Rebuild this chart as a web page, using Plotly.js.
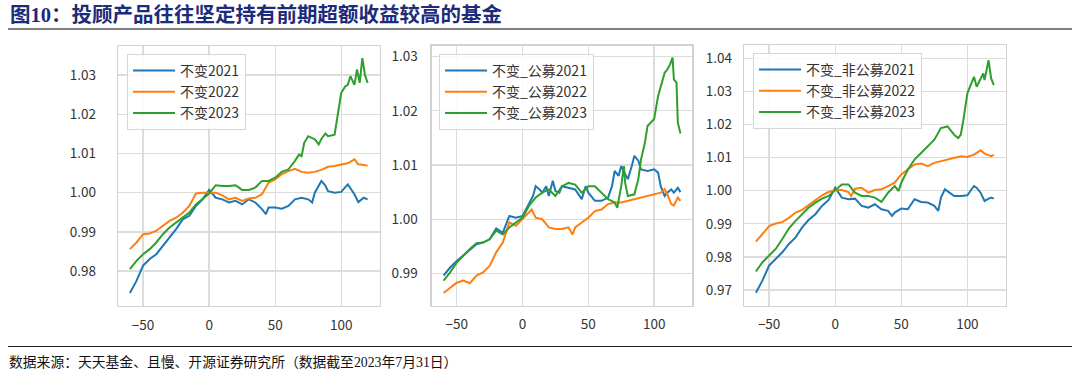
<!DOCTYPE html>
<html>
<head>
<meta charset="utf-8">
<script src="https://cdn.plot.ly/plotly-3.0.1.min.js"></script>
<style>html,body{margin:0;padding:0;background:#fff;}#chart{width:1080px;height:378px;}</style>
</head>
<body>
<div id="chart"></div>
<script>
// ---- data (day offset, cumulative relative NAV) ----
const p1_2021 = [[-60,0.9744],[-55,0.9775],[-50,0.9814],[-45,0.9831],[-40,0.9843],[-35,0.9864],[-30,0.9886],[-25,0.9907],[-20,0.9932],[-15,0.9941],[-10,0.9966],[-5,0.9983],[0,1.0007],[5,0.9987],[10,0.9983],[15,0.9975],[20,0.9979],[25,0.9970],[30,0.9983],[35,0.9975],[40,0.9958],[43,0.9945],[45,0.9962],[50,0.9962],[55,0.9959],[60,0.9966],[65,0.9983],[70,0.9987],[75,0.9983],[78,0.9975],[80,1.0000],[85,1.0030],[88,1.0018],[90,1.0004],[95,1.0000],[100,1.0002],[105,1.0021],[110,0.9996],[113,0.9976],[117,0.9987],[120,0.9983]];
const p1_2022 = [[-60,0.9856],[-55,0.9873],[-50,0.9894],[-45,0.9896],[-40,0.9903],[-35,0.9915],[-30,0.9928],[-25,0.9936],[-20,0.9949],[-15,0.9966],[-10,0.9998],[-5,1.0000],[0,1.0000],[5,1.0000],[10,0.9993],[15,0.9983],[20,0.9987],[25,0.9979],[30,0.9985],[35,0.9987],[40,0.9996],[43,1.0013],[45,1.0025],[50,1.0034],[55,1.0047],[60,1.0055],[65,1.0061],[70,1.0053],[75,1.0051],[80,1.0053],[85,1.0058],[90,1.0066],[95,1.0068],[100,1.0072],[105,1.0075],[110,1.0085],[113,1.0072],[115,1.0072],[120,1.0069]];
const p1_2023 = [[-60,0.9805],[-55,0.9826],[-50,0.9843],[-45,0.9856],[-40,0.9873],[-35,0.9894],[-30,0.9911],[-25,0.9924],[-20,0.9936],[-15,0.9949],[-10,0.9970],[-5,0.9985],[0,0.9998],[5,1.0019],[10,1.0017],[15,1.0017],[20,1.0019],[25,1.0007],[30,1.0007],[35,1.0013],[40,1.0030],[45,1.0030],[50,1.0038],[55,1.0053],[60,1.0059],[65,1.0081],[68,1.0097],[70,1.0093],[72,1.0127],[75,1.0144],[78,1.0140],[80,1.0136],[83,1.0123],[85,1.0137],[88,1.0151],[90,1.0144],[95,1.0148],[97,1.0191],[100,1.0254],[103,1.0271],[105,1.0275],[107,1.0297],[110,1.0275],[112,1.0314],[114,1.0280],[116,1.0343],[118,1.0300],[120,1.0280]];

const p2_2021 = [[-60,0.9896],[-55,0.9911],[-50,0.9923],[-45,0.9933],[-40,0.9944],[-35,0.9954],[-30,0.9957],[-25,0.9963],[-20,0.9983],[-15,0.9975],[-10,1.0006],[-5,1.0003],[0,1.0006],[5,1.0031],[8,1.0043],[10,1.0061],[13,1.0055],[15,1.0049],[18,1.0061],[20,1.0043],[23,1.0071],[25,1.0052],[28,1.0049],[30,1.0061],[35,1.0058],[40,1.0055],[45,1.0037],[48,1.0061],[50,1.0049],[55,1.0034],[60,1.0034],[65,1.0040],[68,1.0061],[70,1.0089],[73,1.0080],[75,1.0098],[78,1.0083],[80,1.0074],[83,1.0098],[85,1.0117],[88,1.0108],[90,1.0092],[95,1.0089],[100,1.0092],[103,1.0086],[105,1.0061],[108,1.0043],[110,1.0049],[113,1.0055],[115,1.0049],[118,1.0058],[120,1.0050]];
const p2_2022 = [[-60,0.9864],[-55,0.9874],[-50,0.9883],[-45,0.9887],[-40,0.9882],[-35,0.9896],[-30,0.9902],[-25,0.9914],[-20,0.9939],[-15,0.9957],[-10,0.9994],[-5,0.9988],[0,1.0000],[5,1.0012],[7,1.0018],[10,1.0003],[15,1.0000],[20,0.9985],[25,0.9982],[30,0.9982],[35,0.9985],[38,0.9972],[40,0.9985],[45,0.9994],[50,1.0003],[55,1.0015],[60,1.0018],[65,1.0028],[70,1.0031],[75,1.0031],[80,1.0034],[85,1.0037],[90,1.0040],[95,1.0043],[100,1.0046],[105,1.0049],[108,1.0055],[110,1.0046],[113,1.0028],[115,1.0025],[118,1.0040],[120,1.0034]];
const p2_2023 = [[-60,0.9887],[-55,0.9902],[-50,0.9920],[-45,0.9933],[-40,0.9945],[-35,0.9956],[-30,0.9957],[-25,0.9963],[-20,0.9979],[-15,0.9972],[-10,0.9985],[-5,0.9994],[0,1.0003],[5,1.0025],[10,1.0040],[15,1.0049],[20,1.0055],[25,1.0043],[30,1.0061],[35,1.0067],[40,1.0064],[45,1.0049],[50,1.0061],[55,1.0061],[60,1.0049],[65,1.0037],[70,1.0031],[72,1.0021],[75,1.0061],[77,1.0098],[78,1.0067],[80,1.0043],[85,1.0046],[88,1.0074],[90,1.0110],[93,1.0141],[95,1.0172],[98,1.0181],[100,1.0185],[103,1.0227],[105,1.0245],[108,1.0270],[110,1.0276],[112,1.0285],[114,1.0298],[115,1.0258],[117,1.0252],[118,1.0178],[120,1.0158]];

const p3_2021 = [[-60,0.9692],[-55,0.9729],[-50,0.9774],[-45,0.9794],[-40,0.9814],[-35,0.9839],[-30,0.9859],[-25,0.9889],[-20,0.9912],[-15,0.9929],[-10,0.9954],[-5,0.9972],[0,1.0009],[5,0.9979],[10,0.9974],[15,0.9976],[20,0.9954],[25,0.9949],[30,0.9959],[35,0.9944],[40,0.9939],[43,0.9924],[45,0.9934],[50,0.9946],[55,0.9944],[60,0.9974],[65,0.9966],[70,0.9964],[75,0.9954],[78,0.9939],[80,0.9979],[83,1.0004],[85,0.9999],[90,0.9984],[95,0.9984],[100,0.9986],[105,1.0014],[107,1.0009],[110,0.9994],[113,0.9969],[115,0.9974],[118,0.9979],[120,0.9976]];
const p3_2022 = [[-60,0.9846],[-55,0.9869],[-50,0.9893],[-45,0.9901],[-40,0.9905],[-35,0.9918],[-30,0.9934],[-25,0.9942],[-20,0.9956],[-15,0.9972],[-10,0.9986],[-5,0.9996],[0,1.0002],[5,1.0002],[10,0.9996],[12,0.9984],[15,1.0006],[20,1.0009],[25,0.9994],[30,1.0002],[35,1.0004],[40,1.0014],[45,1.0024],[50,1.0049],[55,1.0064],[60,1.0079],[65,1.0082],[70,1.0074],[75,1.0084],[80,1.0089],[85,1.0094],[90,1.0099],[95,1.0104],[100,1.0102],[105,1.0109],[110,1.0122],[113,1.0112],[115,1.0109],[118,1.0104],[120,1.0108]];
const p3_2023 = [[-60,0.9756],[-55,0.9784],[-50,0.9804],[-45,0.9824],[-40,0.9854],[-35,0.9886],[-30,0.9909],[-25,0.9929],[-20,0.9949],[-15,0.9964],[-10,0.9976],[-5,0.9984],[0,1.0002],[5,1.0019],[10,1.0019],[15,0.9994],[20,0.9984],[25,0.9984],[30,0.9979],[35,0.9966],[40,0.9994],[45,1.0014],[48,0.9999],[50,1.0024],[55,1.0064],[60,1.0094],[65,1.0114],[70,1.0134],[75,1.0154],[80,1.0189],[85,1.0194],[88,1.0179],[90,1.0169],[93,1.0159],[95,1.0169],[97,1.0214],[100,1.0294],[103,1.0324],[105,1.0344],[107,1.0314],[110,1.0339],[112,1.0354],[113,1.0334],[116,1.0394],[118,1.0339],[120,1.0319]];

const names1 = ['不变2021','不变2022','不变2023'];
const names2 = ['不变_公募2021','不变_公募2022','不变_公募2023'];
const names3 = ['不变_非公募2021','不变_非公募2022','不变_非公募2023'];
const yTicks1 = [0.98,0.99,1.00,1.01,1.02,1.03];
const yTicks2 = [0.99,1.00,1.01,1.02,1.03];
const yTicks3 = [0.97,0.98,0.99,1.00,1.01,1.02,1.03,1.04];
const xTicks = [-50,0,50,100];
const titleText = '图10：投顾产品往往坚定持有前期超额收益较高的基金';
const sourceText = '数据来源：天天基金、且慢、开源证券研究所（数据截至2023年7月31日）';

// ---- styling ----
const colors = ['#1f77b4','#ff7f0e','#2ca02c'];
const W = 1080, H = 378;
const panels = [
  {series:[p1_2021,p1_2022,p1_2023], names:names1, ticks:yTicks1, yr:[0.9711,1.0374], px:[118,379.5], py:[46,306], leg:[127,54], stand:18},
  {series:[p2_2021,p2_2022,p2_2023], names:names2, ticks:yTicks2, yr:[0.98406,1.0320], px:[431.7,692.3], py:[45.7,305.7], leg:[439,54], stand:10},
  {series:[p3_2021,p3_2022,p3_2023], names:names3, ticks:yTicks3, yr:[0.96526,1.0440], px:[744,1005.7], py:[45,305.7], leg:[753,53], stand:8}
];
const tickFont = {family:'Noto Sans CJK SC, DejaVu Sans, sans-serif', size:13.5, color:'#333333'};
const traces = [];
const layout = {
  width:W, height:H, margin:{l:0,r:0,t:0,b:0},
  paper_bgcolor:'#ffffff', plot_bgcolor:'#ffffff', showlegend:true,
  annotations:[], shapes:[]
};
panels.forEach((p,i)=>{
  const k = i===0 ? '' : String(i+1);
  const legKey = 'legend'+k;
  p.series.forEach((s,j)=>{
    traces.push({
      type:'scatter', mode:'lines',
      x:s.map(d=>d[0]), y:s.map(d=>d[1]),
      name:p.names[j], line:{color:colors[j], width:2},
      xaxis:'x'+k, yaxis:'y'+k, legend:legKey, hoverinfo:'skip'
    });
  });
  const axCommon = {showgrid:true, gridcolor:'#dcdcdc', gridwidth:1.3, zeroline:false,
    showline:true, linecolor:'#d2d2d2', linewidth:1.3, mirror:true, ticks:'', tickfont:tickFont};
  layout['xaxis'+k] = Object.assign({}, axCommon, {
    domain:[p.px[0]/W, p.px[1]/W], range:[-69,129], tickmode:'array', tickvals:xTicks,
    anchor:'y'+k, ticklabelstandoff:6
  });
  layout['yaxis'+k] = Object.assign({}, axCommon, {
    domain:[(H-p.py[1])/H, (H-p.py[0])/H], range:p.yr, tickmode:'array', tickvals:p.ticks,
    tickformat:'.2f', anchor:'x'+k, ticklabelstandoff:p.stand
  });
  layout[legKey] = {
    x:p.leg[0]/W, y:(H-p.leg[1])/H, xanchor:'left', yanchor:'top',
    bgcolor:'rgba(255,255,255,0.85)', bordercolor:'#d6d6d6', borderwidth:1,
    font:{family:'Noto Sans CJK SC, sans-serif', size:14, color:'#333333'},
    itemwidth:42
  };
});
// title, rules, source
layout.annotations.push({
  text:'<b>'+titleText+'</b>', xref:'paper', yref:'paper', x:8/W, y:1-15/H,
  xanchor:'left', yanchor:'middle', showarrow:false,
  font:{family:'Liberation Serif, Noto Sans CJK SC, serif', size:20.5, color:'#1c2b7a'}
});
layout.annotations.push({
  text:sourceText, xref:'paper', yref:'paper', x:7/W, y:1-362/H,
  xanchor:'left', yanchor:'middle', showarrow:false,
  font:{family:'Liberation Serif, Noto Sans CJK SC, serif', size:13.8, color:'#111111'}
});
layout.shapes.push({type:'line', xref:'paper', yref:'paper', x0:8/W, x1:1072/W, y0:1-29/H, y1:1-29/H, line:{color:'#555555', width:1.5}});
layout.shapes.push({type:'line', xref:'paper', yref:'paper', x0:8/W, x1:1072/W, y0:1-346.5/H, y1:1-346.5/H, line:{color:'#222222', width:1}});

Plotly.newPlot('chart', traces, layout, {displayModeBar:false, staticPlot:true});
</script>
</body>
</html>
